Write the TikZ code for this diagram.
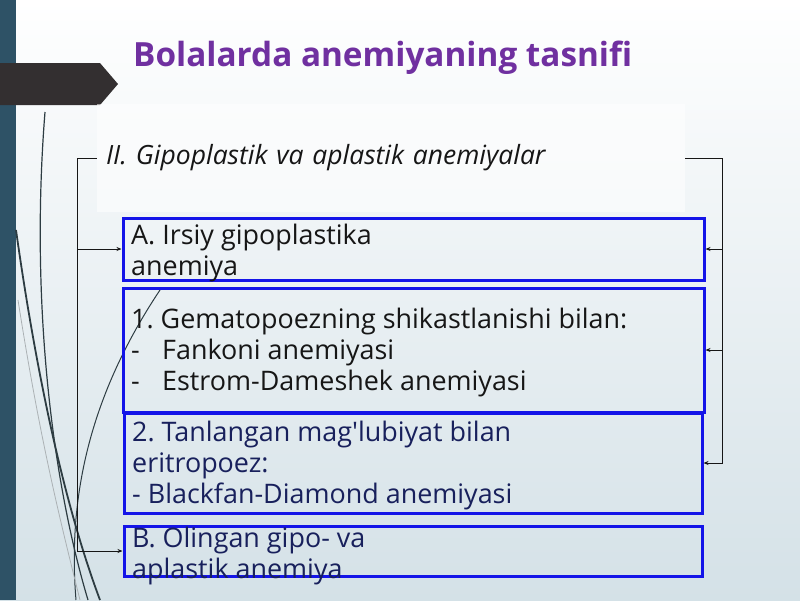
\documentclass[tikz,border=0pt]{standalone}
\usepackage{fontspec}
\setmainfont{Open Sans}
\usetikzlibrary{arrows.meta}
\definecolor{titlepurple}{RGB}{112,48,160}
\definecolor{boxblue}{RGB}{20,20,232}
\definecolor{navytext}{RGB}{24,32,92}
\definecolor{darktext}{RGB}{22,22,22}
\definecolor{stripteal}{RGB}{46,82,102}
\definecolor{tabgray}{RGB}{51,47,48}
\definecolor{bgbottom}{RGB}{212,225,231}
\definecolor{curvegray}{RGB}{45,60,66}
\frenchspacing
\begin{document}
\begin{tikzpicture}[x=1pt,y=-1pt,
    box/.style={draw=boxblue,line width=3pt,minimum width=#1},
    boxtext/.style={anchor=north west,inner sep=0pt,align=left,font=\fontsize{26.9}{31}\selectfont},
    conn/.style={draw=darktext,line width=0.9pt,-{Stealth[length=5pt,width=4pt]}}]
                \useasboundingbox (0,0) rectangle (800,600);
                
                % Drawing background
                \fill [top color=white,bottom color=bgbottom] (0,0) rectangle (800,600);%
                \fill [stripteal] (0,0) rectangle (16,600);%
                \fill [tabgray] (0,63) -- (100,63) -- (118,84) -- (100,105) -- (0,105) -- cycle;%
                
                % Drawing curves on the left
                \draw [curvegray,line width=1.8pt] (16,230) .. controls (40,400) and (70,520) .. (100,600);%
                \draw [curvegray,line width=1.2pt] (45,112) .. controls (30,300) and (52,480) .. (88,600);%
                \draw [curvegray,line width=1pt] (160,290) .. controls (100,380) and (66,480) .. (76,600);%
                \draw [curvegray!40,line width=0.8pt] (18,300) .. controls (40,440) and (60,520) .. (80,600);%
                
                % Title
                \node [anchor=base west,inner sep=0pt,text=titlepurple,font=\fontsize{33.3}{40}\selectfont\bfseries] (title) at (133,66) {Bolalarda anemiyaning tasnifi};%
                
                % Heading
                \node [fill=white,fill opacity=0.55,text opacity=1,text width=570pt,inner xsep=9pt,minimum height=108pt,align=left,
                       text=darktext,font=\fontsize{26.5}{30}\selectfont\itshape] (head) at (391,158) {II. Gipoplastik va aplastik anemiyalar};%
                
                % Drawing box A
                \node [box=581pt,minimum height=62pt] (irsiy) at (413.5,249) {};%
                \node [boxtext,text=darktext] (irsiytext) at (131,222.8) {\strut A. Irsiy gipoplastika\\anemiya};%
                
                % Drawing box 1
                \node [box=581pt,minimum height=124pt] (gemato) at (413.5,350) {};%
                \node [boxtext,text=darktext] (gematotext) at (131,306.8) {\strut 1. Gematopoezning shikastlanishi bilan:\\
                    \makebox[31pt][l]{-}Fankoni anemiyasi\\
                    \makebox[31pt][l]{-}Estrom-Dameshek anemiyasi};%
                
                % Drawing box 2
                \node [box=578pt,minimum height=100pt] (tanlangan) at (413,463) {};%
                \node [boxtext,text=navytext] (tanlangantext) at (132,419.3) {\strut 2. Tanlangan mag\textquotesingle lubiyat bilan\\eritropoez:\\- Blackfan-Diamond anemiyasi};%
                
                % Drawing box B
                \node [box=578pt,minimum height=50pt] (olingan) at (413,551) {};%
                \node [boxtext,text=navytext] (olingantext) at (132,525.8) {\strut B. Olingan gipo- va\\aplastik anemiya};%
                
                % Drawing connectors on the left
                \draw [conn] (head.west) -- ++(-19,0) |- (irsiy.west);%
                \draw [conn] (head.west) -- ++(-19,0) |- (olingan.west);%
                
                % Drawing connectors on the right
                \draw [conn] (head.east) -- ++(37,0) |- (irsiy.east);%
                \draw [conn] (head.east) -- ++(37,0) |- (gemato.east);%
                \draw [conn] (head.east) -- ++(37,0) |- (tanlangan.east);%
\end{tikzpicture}
\end{document}
